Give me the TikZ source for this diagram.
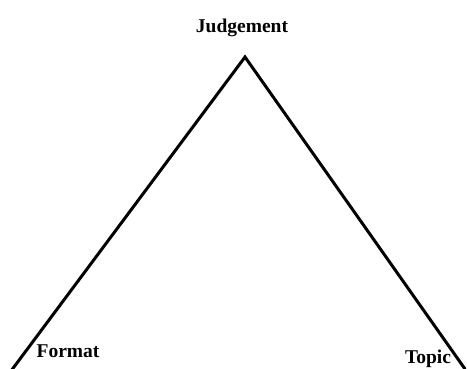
\documentclass[tikz,border=0pt]{standalone}
\usepackage{fontspec}
\setmainfont{Liberation Serif}
\usepackage{tikz}
\usetikzlibrary{positioning}

\begin{document}
\begin{tikzpicture}[
  x=1pt, y=-1pt,
  lbl/.style={font=\fontsize{19.5}{22}\selectfont\bfseries, anchor=base, inner sep=0pt},
  side/.style={line width=3pt, line cap=round, line join=miter}
]
%% --- Frame ---
\useasboundingbox (0,0) rectangle (467,369);

%% --- Corners ---
\coordinate (apex)  at (245,57);
\coordinate (left)  at (11,371);
\coordinate (right) at (465,369);

%% --- Labels ---
\node[lbl] (judgement) at (242,33)  {Judgement};
\node[lbl] (format)    at (68,357)  {Format};
\node[lbl] (topic)     at (428,363) {Topic};

%% --- Sides ---
\draw[side] (left) -- (apex) -- (right);
\end{tikzpicture}
\end{document}
